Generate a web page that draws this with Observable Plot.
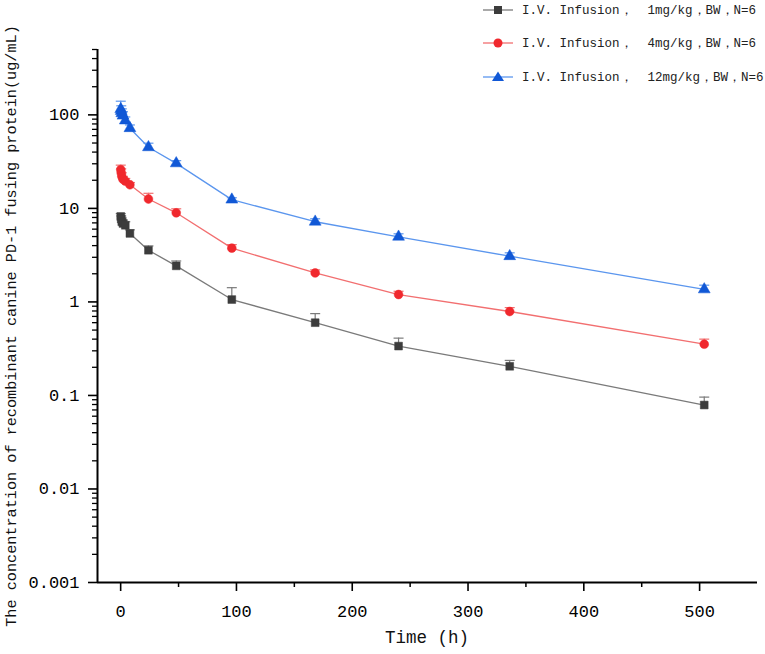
<!DOCTYPE html>
<html>
<head>
<meta charset="utf-8">
<script src="https://cdn.jsdelivr.net/npm/d3@7"></script>
<script src="https://cdn.jsdelivr.net/npm/@observablehq/plot@0.6"></script>
<style>
  html, body { margin: 0; padding: 0; background: #fff; }
  #wrap { position: relative; width: 765px; height: 654px; font-family: "Liberation Mono", monospace; }
  #legend { position: absolute; left: 483px; top: 0; font-size: 12.5px; color: #222; }
  .lrow { position: absolute; left: 0; white-space: pre; display: flex; align-items: center; height: 20px; }
  .lrow svg { margin-right: 9px; }
  #ytitle { position: absolute; left: 12px; top: 326px; transform: translate(-50%, -50%) rotate(-90deg); white-space: pre; font-size: 15.2px; color: #111; }
  #xtitle { position: absolute; left: 427px; top: 638px; transform: translate(-50%, -50%); white-space: pre; font-size: 17.5px; color: #111; }
</style>
</head>
<body>
<div id="wrap">
  <div id="chart"></div>
  <div id="legend"></div>
  <div id="ytitle"></div>
  <div id="xtitle"></div>
</div>
<script>
// ---- data ----
const times = [0.083, 0.5, 1, 2, 4, 8, 24, 48, 96, 168, 240, 336, 504];
const mean1 = [8.2, 7.7, 7.2, 6.9, 6.6, 5.4, 3.57, 2.43, 1.06, 0.60, 0.337, 0.205, 0.079];
const sd1   = [0.6, 0.6, 0.7, 0.6, 0.6, 0.5, 0.40, 0.31, 0.36, 0.15, 0.073, 0.032, 0.017];
const mean4 = [26, 24, 22, 20.5, 19.6, 17.9, 12.6, 8.97, 3.76, 2.04, 1.20, 0.79, 0.353];
const sd4   = [3, 2.5, 2, 1.5, 1.3, 1.0, 1.9, 0.93, 0.34, 0.16, 0.10, 0.08, 0.047];
const mean12 = [115, 110, 104, 98, 87, 72, 45, 30.3, 12.4, 7.2, 4.97, 3.08, 1.36];
const sd12   = [25, 15, 12, 10, 8, 6, 4.8, 2.1, 0.6, 0.54, 0.38, 0.27, 0.15];
const seriesNames = [
  "I.V. Infusion，  1mg/kg，BW，N=6",
  "I.V. Infusion，  4mg/kg，BW，N=6",
  "I.V. Infusion，  12mg/kg，BW，N=6"
];
const xTicks = [0, 100, 200, 300, 400, 500];
const xMinorTicks = [50, 150, 250, 350, 450];
const yTicks = [0.001, 0.01, 0.1, 1, 10, 100];
const yTickLabels = ["0.001", "0.01", "0.1", "1", "10", "100"];
const xDomain = [-20, 550];
const yDomain = [0.001, 500];
const xTitle = "Time (h)";
const yTitle = "The concentration of recombinant canine PD-1 fusing protein(ug/mL)";

// ---- styles ----
const markerColors = ["#3c3c3c", "#f0282d", "#1158d6"];
const lineColors = ["#7a7a7a", "#f26f70", "#5b96ee"];
const symbols = ["square", "circle", "triangle"];

const means = [mean1, mean4, mean12];
const sds = [sd1, sd4, sd12];
const rows = [];
means.forEach((m, s) => m.forEach((v, i) => rows.push({series: s, t: times[i], mean: v, top: v + sds[s][i]})));

const yMinor = [];
for (let e = -3; e <= 2; e++) for (let k = 2; k <= 9; k++) { const v = k * Math.pow(10, e); if (v <= 500) yMinor.push(+v.toPrecision(3)); }

const capSymbol = { draw(ctx) { ctx.moveTo(-5, 0); ctx.lineTo(5, 0); } };

const marks = [
  Plot.axisX({ticks: xTicks, tickSize: 9, tickPadding: 13, tickFormat: d => String(d), fontSize: 17, label: null, strokeWidth: 1.6}),
  Plot.axisX({ticks: xMinorTicks, tickSize: 5, tickFormat: null, text: null, label: null, strokeWidth: 1.5}),
  Plot.axisY({ticks: yTicks, tickSize: 9, tickPadding: 9, tickFormat: (d) => yTickLabels[yTicks.indexOf(d)], fontSize: 17, label: null, strokeWidth: 1.6}),
  Plot.axisY({ticks: yMinor, tickSize: 5, tickFormat: null, text: null, label: null, strokeWidth: 1.3}),
];
for (let s = 0; s < 3; s++) {
  const d = rows.filter(r => r.series === s);
  marks.push(Plot.line(d, {x: "t", y: "mean", stroke: lineColors[s], strokeWidth: 1.3}));
  marks.push(Plot.ruleX(d, {x: "t", y1: "mean", y2: "top", stroke: lineColors[s], strokeWidth: 1.2}));
  marks.push(Plot.dot(d, {x: "t", y: "top", symbol: capSymbol, stroke: lineColors[s], strokeWidth: 1.2, fill: "none", r: 3}));
  marks.push(Plot.dot(d, {x: "t", y: "mean", symbol: symbols[s], fill: markerColors[s], stroke: markerColors[s], strokeWidth: 0.5, r: 4.4}));
}
marks.push(Plot.ruleX([xDomain[0]], {stroke: "#000", strokeWidth: 2}));
marks.push(Plot.ruleY([yDomain[0]], {stroke: "#000", strokeWidth: 2}));

const chart = Plot.plot({
  width: 765,
  height: 654,
  marginLeft: 97,
  marginRight: 8,
  marginTop: 49,
  marginBottom: 72,
  x: {domain: xDomain},
  y: {type: "log", domain: yDomain},
  style: {fontFamily: "Liberation Mono, monospace", color: "#000", background: "#fff"},
  marks
});
document.getElementById("chart").appendChild(chart);

// ---- legend ----
const legend = document.getElementById("legend");
const rowTops = [0, 33, 67];
const symbolPaths = [
  '<rect x="11" y="6" width="8" height="8" />',
  '<circle cx="15" cy="10" r="4.5" />',
  '<path d="M15,4.5 L21,14 L9,14 Z" />'
];
seriesNames.forEach((name, s) => {
  const row = document.createElement("div");
  row.className = "lrow";
  row.style.top = rowTops[s] + "px";
  row.innerHTML = `<svg width="30" height="20"><line x1="0" y1="10" x2="30" y2="10" stroke="${lineColors[s]}" stroke-width="1.3"/><g fill="${markerColors[s]}">${symbolPaths[s]}</g></svg><span>${name}</span>`;
  legend.appendChild(row);
});
document.getElementById("xtitle").textContent = xTitle;
document.getElementById("ytitle").textContent = yTitle;
</script>
</body>
</html>
